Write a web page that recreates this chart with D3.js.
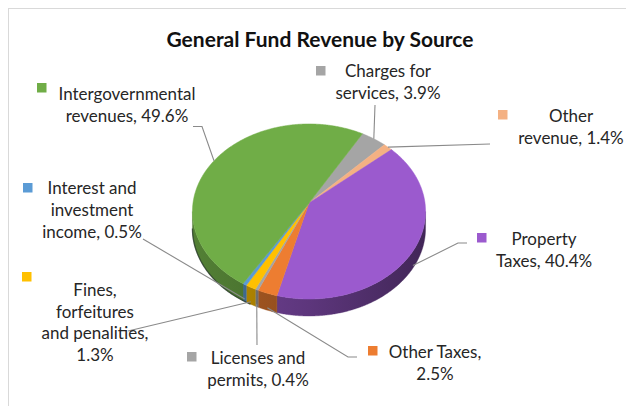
<!DOCTYPE html>
<html>
<head>
<meta charset="utf-8">
<script src="https://cdn.jsdelivr.net/npm/d3@7"></script>
<style>
  html, body { margin: 0; padding: 0; background: #fff; }
  svg { display: block; }
</style>
</head>
<body>
<svg id="chart" width="626" height="406"></svg>
<script>
// ---- data ----
const chartTitle = "General Fund Revenue by Source";
const categories = [
  "Charges for services",
  "Other revenue",
  "Property Taxes",
  "Other Taxes",
  "Licenses and permits",
  "Fines, forfeitures and penalities",
  "Interest and investment income",
  "Intergovernmental revenues"
];
const values = [3.9, 1.4, 40.4, 2.5, 0.4, 1.3, 0.5, 49.6];
const colors = ["#A5A5A5", "#F4B183", "#9B5ACE", "#ED7D31", "#A5A5A5", "#FFC000", "#5B9BD5", "#70AD47"];
// words per wrapped line of each data label ("name, value%")
const labelWrap = [[2, 2], [1, 2], [1, 2], [2, 1], [2, 2], [0, 1, 1, 2, 1], [2, 1, 2], [1, 2]];

// ---- layout ----
const FONT = "Lato, 'Open Sans', sans-serif";
const pieGeom = { cx: 309, cy: 203, a: 116, b: 86.7, k: 0.097, depth: 17, startDeg: 30 };
// label placement: text centre x, first baseline y, legend key position, leader start/elbow
const labelLayout = [
  { x: 388, y: 77,  kx: 316, ky: 66,  start: [375, 105], elbow: null },
  { x: 571, y: 122, kx: 498, ky: 110, start: [490, 144], elbow: null },
  { x: 544, y: 245, kx: 477, ky: 233, start: [467, 243], elbow: [458, 243] },
  { x: 435, y: 358, kx: 368, ky: 346, start: [357, 357], elbow: [348, 357] },
  { x: 258, y: 364, kx: 187, ky: 352, start: [257, 345], elbow: null },
  { x: 95,  y: 274, kx: 22,  ky: 272, start: [128, 331], elbow: null },
  { x: 92,  y: 194, kx: 23,  ky: 183, start: [143, 239], elbow: null },
  { x: 127, y: 100, kx: 37,  ky: 83,  start: [193, 126.5], elbow: [202, 126.5] }
];
const lineGap = 21.8;

const svg = d3.select("#chart");
const defs = svg.append("defs");

// chart area frame
svg.append("rect")
  .attr("x", 8.5).attr("y", 8.5)
  .attr("width", 700).attr("height", 500)
  .attr("fill", "#fff").attr("stroke", "#d9d9d9").attr("stroke-width", 1);

// font size that makes a string reach a given width
function fitSize(text, weight, target) {
  const t = svg.append("text").attr("font-family", FONT).attr("font-weight", weight)
    .attr("font-size", 20).text(text);
  const w = t.node().getComputedTextLength();
  t.remove();
  return 20 * target / w;
}
const titleSize = fitSize(chartTitle, "bold", 307);
const labelSize = fitSize("Intergovernmental", "normal", 137);

// ---- perspective projection of the pie disc ----
const { cx, cy, a, b, k, depth } = pieGeom;
function proj(theta, r = 1) {
  const u = r * Math.sin(theta), v = r * Math.cos(theta);
  const s = 1 / (1 + k * v);
  return [cx + a * u * s, cy - b * v * s];
}

const start = pieGeom.startDeg * Math.PI / 180;
const arcs = d3.pie().sort(null).value(d => d)
  .startAngle(start).endAngle(start + 2 * Math.PI)(values);

const step = Math.PI / 360;
function arcPoints(t0, t1) {
  const n = Math.max(2, Math.ceil((t1 - t0) / step));
  return d3.range(n + 1).map(i => proj(t0 + (t1 - t0) * i / n));
}

// visible side wall: between the left and right silhouette angles (through the front)
const thetaR = Math.acos(-k);               // right extreme
const thetaL = 2 * Math.PI - Math.acos(-k); // left extreme
const xL = proj(thetaL)[0], xR = proj(thetaR)[0];
function norm(t) { const p = 2 * Math.PI; return ((t % p) + p) % p; }
function scaled(hex, f) {
  const c = d3.rgb(hex);
  return d3.rgb(c.r * f, c.g * f, c.b * f).formatHex();
}

// side walls, lit from the left
const sideG = svg.append("g");
arcs.forEach((d, i) => {
  const grad = defs.append("linearGradient")
    .attr("id", "side" + i).attr("gradientUnits", "userSpaceOnUse")
    .attr("x1", xL).attr("y1", 0).attr("x2", xR).attr("y2", 0);
  grad.append("stop").attr("offset", 0).attr("stop-color", scaled(colors[i], 0.74));
  grad.append("stop").attr("offset", 0.5).attr("stop-color", scaled(colors[i], 0.6));
  grad.append("stop").attr("offset", 1).attr("stop-color", scaled(colors[i], 0.42));

  // portion of the slice that lies on the visible front
  let s0 = norm(d.startAngle), s1 = s0 + (d.endAngle - d.startAngle);
  const ranges = [[s0, s1], [s0 - 2 * Math.PI, s1 - 2 * Math.PI], [s0 + 2 * Math.PI, s1 + 2 * Math.PI]];
  ranges.forEach(([r0, r1]) => {
    const lo = Math.max(r0, thetaR), hi = Math.min(r1, thetaL);
    if (hi <= lo) return;
    const top = arcPoints(lo, hi);
    const bot = top.map(p => [p[0], p[1] + depth]).reverse();
    sideG.append("path")
      .attr("d", "M" + top.concat(bot).map(p => p.join(",")).join("L") + "Z")
      .attr("fill", `url(#side${i})`)
      .attr("stroke", `url(#side${i})`).attr("stroke-width", 0.4);
  });
});

// darker rim along the lower-left bottom edge
const rimPts = arcPoints(3.62, thetaL).map(p => [p[0], p[1] + depth]);
svg.append("path")
  .attr("d", d3.line()(rimPts))
  .attr("fill", "none").attr("stroke", "#1f2f24").attr("stroke-width", 1.3).attr("opacity", 0.7);

// top faces
svg.append("g").selectAll("path")
  .data(arcs)
  .join("path")
  .attr("d", d => "M" + [cx, cy].join(",") + "L" +
    arcPoints(d.startAngle, d.endAngle).map(p => p.join(",")).join("L") + "Z")
  .attr("fill", (d, i) => colors[i])
  .attr("stroke", (d, i) => colors[i])
  .attr("stroke-width", 0.5);

// title
svg.append("text")
  .attr("x", 320).attr("y", 47)
  .attr("text-anchor", "middle")
  .attr("font-family", FONT).attr("font-weight", "bold")
  .attr("font-size", titleSize).attr("fill", "#111")
  .text(chartTitle);

// leader lines: from each label to its slice
const leaderG = svg.append("g").attr("fill", "none").attr("stroke", "#8a8a8a").attr("stroke-width", 1.1);
arcs.forEach((d, i) => {
  const L = labelLayout[i];
  const mid = (d.startAngle + d.endAngle) / 2;
  let end = proj(mid);
  if (Math.cos(mid) < 0) end = [end[0], end[1] + depth * 0.85];
  const pts = [L.start];
  if (L.elbow) pts.push(L.elbow);
  pts.push(end);
  leaderG.append("path").attr("d", d3.line()(pts));
});

// data labels with legend keys
const labelG = svg.append("g")
  .attr("font-family", FONT).attr("font-size", labelSize).attr("fill", "#262626");
arcs.forEach((d, i) => {
  const L = labelLayout[i];
  const words = (categories[i] + ", " + values[i].toFixed(1) + "%").split(" ");
  const lines = [];
  let w = 0;
  labelWrap[i].forEach(n => { lines.push(words.slice(w, w + n).join(" ")); w += n; });
  labelG.append("rect")
    .attr("x", L.kx).attr("y", L.ky).attr("width", 9.5).attr("height", 9.5)
    .attr("fill", colors[i]);
  const txt = labelG.append("text").attr("text-anchor", "middle");
  lines.forEach((s, row) => {
    if (s === "") return;
    txt.append("tspan").attr("x", L.x).attr("y", L.y + row * lineGap).text(s);
  });
});
</script>
</body>
</html>
